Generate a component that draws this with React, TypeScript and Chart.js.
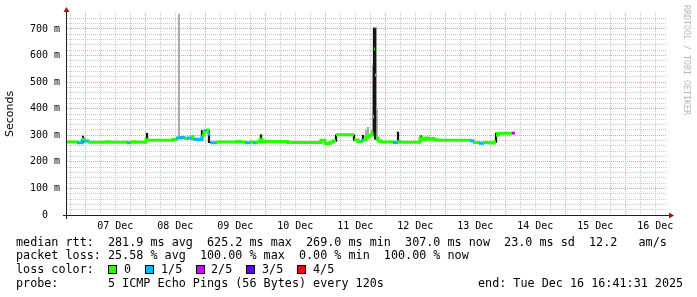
import React, { useEffect, useRef } from 'react';
import { Chart, registerables } from 'chart.js';

Chart.register(...registerables);

// ---- time axis (hours after window start, Dec 6 16:41:31) ----
const spanHours = 240;
const firstMidnight = 7.308; // 07 Dec 00:00
const dayLabels = ['07 Dec', '08 Dec', '09 Dec', '10 Dec', '11 Dec', '12 Dec', '13 Dec', '14 Dec', '15 Dec', '16 Dec'];
const yMax = 760;
const yStep = 20;

// ---- median rtt (ms) with packet loss (in fifths) ----
const medianHours = [0, 4, 6, 6.8, 8.4, 15.6, 16.8, 24, 25.2, 26.4, 27.6, 31.6, 32.4, 42.4, 43.6, 45.6, 46.8, 48, 49.6, 50.4, 52.4, 54, 54.8, 55.6, 56.4, 57.2, 59.6, 68, 69.2, 71.2, 73.2, 74.4, 75.6, 77.2, 78, 88.4, 101.6, 103.2, 105.2, 106.4, 107.6, 114.8, 116.4, 117.6, 118.4, 119.6, 120.8, 122, 122.4, 122.8, 123.2, 123.6, 124.4, 125.6, 130.4, 132, 133.2, 141.2, 142.4, 143.6, 144.8, 145.6, 146.8, 148, 161.2, 162.4, 164.8, 166.4, 169.2, 170.8, 171.6, 172.4, 178, 179.2];
const medianMs = [275, 272, 285, 278, 274, 276, 274, 272, 274, 276, 274, 283, 281, 284, 290, 292, 288, 290, 295, 285, 283, 300, 318, 320, 305, 272, 275, 277, 275, 272, 275, 272, 275, 285, 277, 273, 281, 269, 274, 278, 302, 282, 277, 280, 283, 293, 300, 313, 370, 625, 527, 290, 278, 275, 273, 276, 274, 290, 283, 290, 285, 288, 283, 281, 279, 273, 270, 273, 271, 276, 300, 308, 308, 308];
const medianLoss = [0, 1, 0, 1, 0, 0, 0, 1, 0, 0, 0, 0, 0, 0, 1, 1, 0, 1, 0, 1, 1, 0, 1, 0, 1, 1, 0, 0, 0, 1, 0, 1, 0, 0, 0, 0, 0, 0, 0, 0, 0, 0, 0, 1, 0, 0, 0, 0, 0, 0, 0, 0, 0, 0, 1, 0, 0, 0, 0, 0, 0, 0, 0, 0, 1, 0, 1, 0, 0, 0, 0, 0, 2, 2];

// ---- smoke (ping spread), dark core and faint outliers ----
const smokeHours = [6.4, 32, 50, 54, 56.8, 77.6, 107.6, 114.8, 118.4, 122.8, 123.2, 132.4, 141.6, 171.6];
const smokeLow = [272, 280, 285, 283, 272, 274, 277, 281, 279, 300, 285, 274, 278, 273];
const smokeHigh = [297, 308, 297, 318, 318, 302, 302, 302, 300, 704, 700, 312, 298, 308];
const faintHours = [44.8, 119.6, 120.4, 122.4, 123.6, 124];
const faintLow = [290, 290, 292, 305, 290, 282];
const faintHigh = [756, 320, 331, 560, 707, 395];

const lossColors = ['#26ff00', '#00b8ff', '#d400ff', '#5a00ff', '#ff0000'];
const lossLabels = ['0', '1/5', '2/5', '3/5', '4/5'];

const statsRtt = 'median rtt:  281.9 ms avg  625.2 ms max  269.0 ms min  307.0 ms now  23.0 ms sd  12.2   am/s';
const statsLoss = 'packet loss: 25.58 % avg  100.00 % max  0.00 % min  100.00 % now';
const probeText = 'probe:       5 ICMP Echo Pings (56 Bytes) every 120s';
const endText = 'end: Tue Dec 16 16:41:31 2025';

const GRID_MINOR = '#cacaca';
const GRID_MAJOR = '#eaa0a0';
const MONO = "'DejaVu Sans Mono', monospace";
const JUMP_BREAK = 20; // ms: larger steps are left to the smoke

// expanded step series: horizontal runs, broken at large jumps
const stepPoints: { x: number; y: number | null }[] = [];
const stepLoss: number[] = [];
medianHours.forEach((h, i) => {
  if (i > 0 && Math.abs(medianMs[i] - medianMs[i - 1]) >= JUMP_BREAK) {
    stepPoints.push({ x: h, y: medianMs[i - 1] });
    stepLoss.push(medianLoss[i - 1]);
    stepPoints.push({ x: h, y: null });
    stepLoss.push(medianLoss[i - 1]);
  }
  stepPoints.push({ x: h, y: medianMs[i] });
  stepLoss.push(medianLoss[i]);
});

const decor = {
  id: 'decor',
  afterDraw(chart: any) {
    const { ctx, chartArea } = chart;
    const { left, right, top, bottom } = chartArea;
    ctx.save();
    ctx.strokeStyle = '#202020';
    ctx.lineWidth = 1;
    ctx.beginPath();
    ctx.moveTo(left - 4, bottom + 0.5);
    ctx.lineTo(right + 3, bottom + 0.5);
    ctx.moveTo(left - 0.5, bottom + 4);
    ctx.lineTo(left - 0.5, top - 1);
    ctx.stroke();
    ctx.fillStyle = '#b01010';
    ctx.beginPath();
    ctx.moveTo(right + 2, bottom - 2.5);
    ctx.lineTo(right + 7, bottom + 0.5);
    ctx.lineTo(right + 2, bottom + 3.5);
    ctx.closePath();
    ctx.fill();
    ctx.beginPath();
    ctx.moveTo(left - 3.5, top - 1);
    ctx.lineTo(left - 0.5, top - 6);
    ctx.lineTo(left + 2.5, top - 1);
    ctx.closePath();
    ctx.fill();

    ctx.fillStyle = '#000';
    ctx.save();
    ctx.translate(10.5, 114);
    ctx.rotate(-Math.PI / 2);
    ctx.font = "11px 'DejaVu Sans', sans-serif";
    ctx.textAlign = 'center';
    ctx.textBaseline = 'middle';
    ctx.fillText('Seconds', 0, 0);
    ctx.restore();

    ctx.save();
    ctx.translate(686, 5);
    ctx.rotate(Math.PI / 2);
    ctx.font = `8.3px ${MONO}`;
    ctx.fillStyle = '#b8b8b8';
    ctx.textAlign = 'left';
    ctx.textBaseline = 'middle';
    ctx.fillText('RRDTOOL / TOBI OETIKER', 0, 0);
    ctx.restore();

    ctx.font = `11.75px ${MONO}`;
    ctx.fillStyle = '#000';
    ctx.textAlign = 'left';
    ctx.textBaseline = 'alphabetic';
    ctx.fillText(statsRtt, 16, 245.5);
    ctx.fillText(statsLoss, 16, 259.3);
    ctx.fillText('loss color:', 16, 273.2);
    const boxX = [109, 146, 197, 247, 298];
    const labX = [124, 161, 211, 262, 313];
    lossLabels.forEach((lab, i) => {
      ctx.fillStyle = lossColors[i];
      ctx.fillRect(boxX[i], 266, 7, 7);
      ctx.strokeStyle = '#000';
      ctx.strokeRect(boxX[i] - 0.5, 265.5, 8, 8);
      ctx.fillStyle = '#000';
      ctx.fillText(lab, labX[i], 273.2);
    });
    ctx.fillText(probeText, 16, 287);
    ctx.fillText(endText, 478, 287);
    ctx.restore();
  },
};

function tickIndex(v: number) {
  return Math.round((v - firstMidnight) / 6);
}

export default function App() {
  const ref = useRef<HTMLCanvasElement>(null);
  useEffect(() => {
    document.body.style.margin = '0';
    const chart = new Chart(ref.current as HTMLCanvasElement, {
      type: 'line',
      data: {
        datasets: [
          {
            type: 'line',
            label: 'median',
            data: stepPoints,
            stepped: true,
            spanGaps: false,
            borderWidth: 3,
            pointRadius: 0,
            borderColor: lossColors[0],
            borderCapStyle: 'butt',
            fill: false,
            segment: { borderColor: (c: any) => lossColors[stepLoss[c.p0DataIndex]] },
            order: 1,
          } as any,
          {
            type: 'bar',
            label: 'smoke',
            data: smokeHours.map((h, i) => ({ x: h, y: [smokeLow[i], smokeHigh[i]] })),
            backgroundColor: '#151515',
            barThickness: 1.6,
            grouped: false,
            order: 2,
          } as any,
          {
            type: 'bar',
            label: 'faint',
            data: faintHours.map((h, i) => ({ x: h, y: [faintLow[i], faintHigh[i]] })),
            backgroundColor: '#9c9c9c',
            barThickness: 1,
            grouped: false,
            order: 3,
          } as any,
        ],
      },
      options: {
        responsive: false,
        animation: false,
        events: [],
        layout: { padding: { top: 13, right: 30, left: 0, bottom: 0 } },
        plugins: { legend: { display: false }, tooltip: { enabled: false }, title: { display: false } },
        scales: {
          x: {
            type: 'linear',
            min: 0,
            max: spanHours,
            offset: false,
            afterBuildTicks: (s: any) => {
              const t = [];
              for (let h = firstMidnight - 6; h <= spanHours; h += 6) if (h >= 0) t.push({ value: h });
              s.ticks = t;
            },
            afterFit: (s: any) => { s.height = 82; },
            grid: {
              offset: false,
              drawTicks: false,
              lineWidth: 1,
              color: (c: any) => (((tickIndex(c.tick.value) % 4) + 4) % 4 === 0 ? GRID_MAJOR : GRID_MINOR),
            },
            border: { display: false, dash: [1, 1] },
            ticks: {
              autoSkip: false,
              maxRotation: 0,
              padding: 5,
              color: '#000',
              font: { family: MONO, size: 10 },
              callback: (v: any) => {
                const k = tickIndex(Number(v));
                if (((k % 4) + 4) % 4 !== 2) return '';
                return dayLabels[(k - 2) / 4] ?? '';
              },
            },
          },
          y: {
            type: 'linear',
            min: 0,
            max: yMax,
            afterBuildTicks: (s: any) => {
              const t = [];
              for (let v = 0; v <= yMax; v += yStep) t.push({ value: v });
              s.ticks = t;
            },
            afterFit: (s: any) => { s.width = 67; },
            grid: {
              drawTicks: false,
              lineWidth: 1,
              color: (c: any) => {
                const v = c.tick.value;
                if (v === yMax || v === 0) return 'rgba(0,0,0,0)';
                return v % 100 === 0 ? GRID_MAJOR : GRID_MINOR;
              },
            },
            border: { display: false, dash: [1, 1] },
            ticks: {
              autoSkip: false,
              padding: 7,
              color: '#000',
              font: { family: MONO, size: 10 },
              callback: (v: any) => {
                const n = Number(v);
                if (n % 100 !== 0) return '';
                return n === 0 ? '0  ' : `${n} m`;
              },
            },
          },
        },
      } as any,
      plugins: [decor],
    });
    return () => chart.destroy();
  }, []);
  return (
    <div style={{ width: 697, height: 297, background: '#fff' }}>
      <canvas ref={ref} width={697} height={297} style={{ display: 'block' }} />
    </div>
  );
}
